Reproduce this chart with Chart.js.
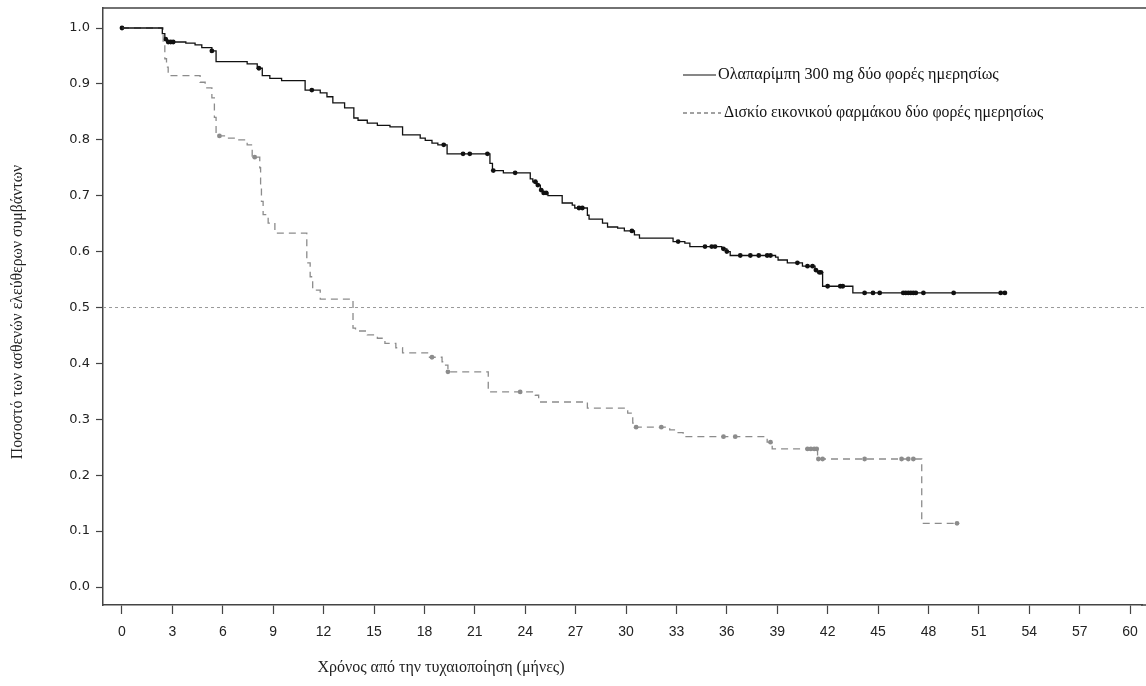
<!DOCTYPE html>
<html>
<head>
<meta charset="utf-8">
<script src="https://cdn.jsdelivr.net/npm/chart.js@4.4.1/dist/chart.umd.min.js"></script>
<style>
  html, body { margin: 0; padding: 0; background: #fff; }
  #wrap { width: 1146px; height: 686px; }
</style>
</head>
<body>
<div id="wrap"><canvas id="myChart" width="1146" height="686"></canvas></div>
<script>
// Olaparib arm: step times (months) and survival after each step
const olaTimes = [0, 2.4, 2.55, 2.7, 3.8, 4.35, 4.75, 5.35, 5.6, 7.45, 8.05, 8.35, 8.8, 9.5, 10.9, 11.8, 12.2, 12.55, 13.25, 13.8, 14.05, 14.6, 15.2, 15.95, 16.7, 17.75, 18.05, 18.45, 18.8, 19.35, 21.9, 22.05, 22.7, 24.3, 24.45, 24.7, 24.9, 25.05, 25.35, 26.2, 26.8, 26.95, 27.7, 27.8, 28.6, 28.9, 29.5, 29.9, 30.5, 30.8, 32.8, 33.5, 33.8, 35.7, 36.0, 36.2, 38.9, 39.05, 39.6, 40.5, 41.25, 41.4, 41.7, 43.5, 52.6];
const olaSurv = [1.0, 0.99, 0.98, 0.975, 0.973, 0.970, 0.965, 0.959, 0.940, 0.936, 0.928, 0.915, 0.910, 0.906, 0.889, 0.884, 0.877, 0.866, 0.857, 0.839, 0.835, 0.830, 0.826, 0.823, 0.809, 0.803, 0.799, 0.794, 0.791, 0.775, 0.758, 0.745, 0.741, 0.730, 0.725, 0.719, 0.710, 0.705, 0.700, 0.687, 0.683, 0.678, 0.665, 0.658, 0.651, 0.644, 0.642, 0.637, 0.630, 0.624, 0.618, 0.615, 0.609, 0.605, 0.600, 0.593, 0.590, 0.585, 0.580, 0.574, 0.567, 0.563, 0.538, 0.526, 0.526];
const olaCensored = [0, 2.6, 2.75, 2.9, 3.05, 5.35, 8.15, 11.3, 19.15, 20.3, 20.7, 21.75, 22.1, 23.4, 24.6, 24.75, 24.95, 25.1, 25.25, 27.2, 27.4, 30.35, 33.1, 34.7, 35.1, 35.3, 35.8, 36.0, 36.8, 37.4, 37.9, 38.4, 38.6, 40.2, 40.8, 41.1, 41.3, 41.5, 41.6, 42.0, 42.75, 42.9, 44.2, 44.7, 45.1, 46.5, 46.65, 46.8, 46.95, 47.1, 47.25, 47.7, 49.5, 52.3, 52.55];

// Placebo arm
const plaTimes = [0, 2.45, 2.55, 2.65, 2.75, 4.65, 4.95, 5.35, 5.5, 5.6, 6.25, 6.75, 7.45, 7.75, 8.2, 8.25, 8.3, 8.4, 8.7, 9.1, 11.0, 11.2, 11.35, 11.8, 13.75, 13.9, 14.6, 15.2, 15.65, 16.3, 16.7, 18.3, 19.05, 19.2, 19.4, 21.8, 24.6, 24.8, 27.7, 30.1, 30.4, 30.6, 32.6, 33.1, 33.4, 38.4, 38.7, 41.4, 47.6, 49.7];
const plaSurv = [1.0, 0.97, 0.945, 0.93, 0.915, 0.903, 0.893, 0.875, 0.84, 0.807, 0.803, 0.800, 0.791, 0.769, 0.75, 0.72, 0.69, 0.666, 0.651, 0.633, 0.58, 0.555, 0.531, 0.515, 0.463, 0.458, 0.451, 0.445, 0.436, 0.428, 0.419, 0.411, 0.403, 0.397, 0.385, 0.349, 0.343, 0.331, 0.320, 0.311, 0.293, 0.286, 0.281, 0.276, 0.269, 0.259, 0.247, 0.229, 0.114, 0.114];
const plaCensored = [5.8, 7.9, 18.45, 19.4, 23.7, 30.6, 32.1, 35.8, 36.5, 38.6, 40.8, 41.0, 41.2, 41.35, 41.45, 41.7, 44.2, 46.4, 46.8, 47.1, 49.7];

const xTicks = [0, 3, 6, 9, 12, 15, 18, 21, 24, 27, 30, 33, 36, 39, 42, 45, 48, 51, 54, 57, 60];
const yTicks = [0, 0.1, 0.2, 0.3, 0.4, 0.5, 0.6, 0.7, 0.8, 0.9, 1.0];
const medianLine = 0.5;

const olaLabel = 'Ολαπαρίμπη 300 mg δύο φορές ημερησίως';
const plaLabel = 'Δισκίο εικονικού φαρμάκου δύο φορές ημερησίως';
const xTitle = 'Χρόνος από την τυχαιοποίηση (μήνες)';
const yTitle = 'Ποσοστό των ασθενών ελεύθερων συμβάντων';

// survival value at time t on a step curve
function survAt(times, surv, t) {
    let s = surv[0];
    for (let i = 0; i < times.length; i++) {
        if (times[i] <= t) s = surv[i];
    }
    return s;
}

const toPoints = (xs, ys) => xs.map((x, i) => ({ x: x, y: ys[i] }));
const censorPoints = (cs, times, surv) => cs.map(t => ({ x: t, y: survAt(times, surv, t) }));

// keep tick labels from shrinking the plot area
function noLabelPadding(scale) {
    scale.paddingLeft = 0;
    scale.paddingRight = 0;
    scale.paddingTop = 0;
    scale.paddingBottom = 0;
}

// frame, reference line, legend and axis titles
const decorations = {
    id: 'decorations',
    beforeDatasetsDraw(chart) {
        const ctx = chart.ctx;
        const area = chart.chartArea;
        const y = chart.scales.y.getPixelForValue(medianLine);
        ctx.save();
        ctx.strokeStyle = '#9a9a9a';
        ctx.lineWidth = 1;
        ctx.setLineDash([3, 3]);
        ctx.beginPath();
        ctx.moveTo(area.left, y);
        ctx.lineTo(chart.width, y);
        ctx.stroke();
        ctx.restore();
    },
    afterDraw(chart) {
        const ctx = chart.ctx;
        const area = chart.chartArea;
        ctx.save();
        // top frame line, and bottom line carried on to the canvas edge
        ctx.strokeStyle = '#444';
        ctx.lineWidth = 1.5;
        ctx.beginPath();
        ctx.moveTo(area.left, area.top);
        ctx.lineTo(chart.width, area.top);
        ctx.moveTo(area.right - 1, area.bottom);
        ctx.lineTo(chart.width, area.bottom);
        ctx.stroke();

        // legend
        ctx.lineWidth = 1.2;
        ctx.strokeStyle = '#111';
        ctx.beginPath();
        ctx.moveTo(683, 75);
        ctx.lineTo(716, 75);
        ctx.stroke();
        ctx.setLineDash([4, 3]);
        ctx.strokeStyle = '#444';
        ctx.beginPath();
        ctx.moveTo(683, 113);
        ctx.lineTo(721, 113);
        ctx.stroke();
        ctx.setLineDash([]);
        ctx.fillStyle = '#111';
        ctx.textBaseline = 'middle';
        ctx.textAlign = 'left';
        ctx.font = '16.2px "Liberation Serif"';
        ctx.fillText(olaLabel, 718, 75);
        ctx.font = '15.8px "Liberation Serif"';
        ctx.fillText(plaLabel, 724, 113);

        // axis titles
        ctx.fillStyle = '#222';
        ctx.font = '16px "Liberation Serif"';
        ctx.textAlign = 'center';
        ctx.fillText(xTitle, 441, 668);
        ctx.font = '15.8px "Liberation Serif"';
        ctx.translate(18, 312);
        ctx.rotate(-Math.PI / 2);
        ctx.fillText(yTitle, 0, 0);
        ctx.restore();
    }
};

document.addEventListener("DOMContentLoaded", function() {
    const ctx = document.getElementById('myChart').getContext('2d');

    new Chart(ctx, {
        type: 'line',
        data: {
            datasets: [
                {
                    label: olaLabel,
                    data: toPoints(olaTimes, olaSurv),
                    stepped: 'before',
                    borderColor: '#111',
                    borderWidth: 1.3,
                    pointRadius: 0,
                    fill: false
                },
                {
                    label: plaLabel,
                    data: toPoints(plaTimes, plaSurv),
                    stepped: 'before',
                    borderColor: '#8c8c8c',
                    borderWidth: 1.3,
                    borderDash: [7, 5],
                    pointRadius: 0,
                    fill: false
                },
                {
                    type: 'scatter',
                    data: censorPoints(olaCensored, olaTimes, olaSurv),
                    pointRadius: 2.4,
                    pointBackgroundColor: '#111',
                    pointBorderWidth: 0,
                    showLine: false
                },
                {
                    type: 'scatter',
                    data: censorPoints(plaCensored, plaTimes, plaSurv),
                    pointRadius: 2.4,
                    pointBackgroundColor: '#8c8c8c',
                    pointBorderWidth: 0,
                    showLine: false
                }
            ]
        },
        options: {
            responsive: false,
            animation: false,
            layout: { padding: { top: 8, right: 0, left: 0, bottom: 0 } },
            scales: {
                x: {
                    type: 'linear',
                    min: -1.13,
                    max: 60.71,
                    afterFit(scale) { scale.height = 81; noLabelPadding(scale); },
                    afterBuildTicks(scale) { scale.ticks = xTicks.map(v => ({ value: v })); },
                    border: { color: '#444', width: 1.5 },
                    grid: { drawOnChartArea: false, tickLength: 9, tickColor: '#444', tickWidth: 1.2 },
                    ticks: {
                        color: '#222',
                        padding: 10,
                        maxRotation: 0,
                        autoSkip: false,
                        font: { family: '"Liberation Sans Narrow", "Liberation Sans"', size: 14 }
                    }
                },
                y: {
                    min: -0.0322,
                    max: 1.0358,
                    afterFit(scale) { scale.width = 103; noLabelPadding(scale); },
                    afterBuildTicks(scale) { scale.ticks = yTicks.map(v => ({ value: v })); },
                    border: { color: '#444', width: 1.5 },
                    grid: { drawOnChartArea: false, tickLength: 7, tickColor: '#444', tickWidth: 1.2 },
                    ticks: {
                        color: '#222',
                        padding: 6,
                        autoSkip: false,
                        font: { family: '"DejaVu Sans"', size: 13 },
                        callback: v => v.toFixed(1)
                    }
                }
            },
            plugins: {
                legend: { display: false },
                tooltip: { enabled: false }
            }
        },
        plugins: [decorations]
    });
});
</script>
</body>
</html>
